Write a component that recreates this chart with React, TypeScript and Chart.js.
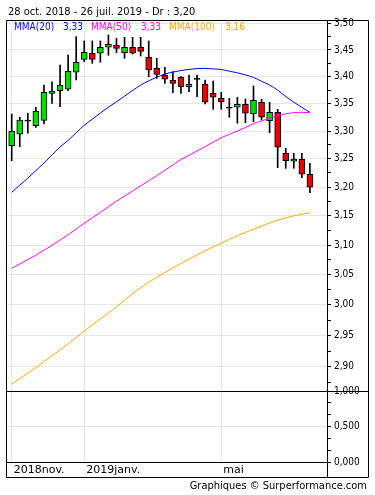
import React, { useEffect, useRef } from 'react';
import { Chart, registerables } from 'chart.js';
Chart.register(...registerables);

// weekly candles, index 0 = first week of Nov 2018
const weeks = [0,1,2,3,4,5,6,7,8,9,10,11,12,13,14,15,16,17,18,19,20,21,22,23,24,25,26,27,28,29,30,31,32,33,34,35,36,37];
const opens = [3.2736,3.2942,3.3188,3.3097,3.3195,3.3690,3.3739,3.3765,3.4081,3.4324,3.4438,3.4438,3.4551,3.4595,3.4449,3.4551,3.4551,3.4362,3.4156,3.4025,3.3937,3.3987,3.3813,3.3956,3.3863,3.3690,3.3598,3.3426,3.3433,3.3488,3.3310,3.3525,3.3188,3.3341,3.2600,3.2458,3.2493,3.2227];
const highs = [3.3310,3.3250,3.3323,3.3433,3.3844,3.3905,3.4217,3.4406,3.4753,3.4671,3.4671,3.4671,3.4785,3.4722,3.4741,3.4741,3.4741,3.4671,3.4343,3.4174,3.4092,3.3999,3.4030,3.4030,3.3937,3.3918,3.3709,3.3598,3.3617,3.3585,3.3826,3.3580,3.3525,3.3396,3.2690,3.2600,3.2600,3.2422];
const lows = [3.2468,3.2718,3.2960,3.3068,3.3128,3.3506,3.3444,3.3739,3.3937,3.4279,3.4249,3.4268,3.4400,3.4449,3.4343,3.4424,3.4387,3.3999,3.3969,3.3875,3.3702,3.3690,3.3720,3.3627,3.3493,3.3396,3.3396,3.3250,3.3141,3.3152,3.3170,3.3201,3.2970,3.2344,3.2333,3.2333,3.2167,3.1903];
const closes = [3.3001,3.3201,3.3188,3.3365,3.3709,3.3733,3.3844,3.4099,3.4268,3.4457,3.4324,3.4551,3.4608,3.4532,3.4551,3.4438,3.4475,3.4124,3.4043,3.3950,3.3875,3.3813,3.3857,3.3956,3.3525,3.3617,3.3536,3.3426,3.3488,3.3323,3.3561,3.3250,3.3341,3.2708,3.2468,3.2498,3.2227,3.1998];
const mma20 = [3.1910,3.2035,3.2160,3.2291,3.2427,3.2571,3.2713,3.2832,3.2969,3.3105,3.3215,3.3327,3.3435,3.3534,3.3637,3.3744,3.3840,3.3922,3.3987,3.4049,3.4084,3.4114,3.4135,3.4150,3.4154,3.4144,3.4133,3.4101,3.4071,3.4032,3.3985,3.3913,3.3842,3.3748,3.3631,3.3527,3.3431,3.3341];
const mma50 = [3.0608,3.0680,3.0754,3.0829,3.0912,3.0995,3.1087,3.1175,3.1275,3.1371,3.1466,3.1561,3.1659,3.1755,3.1844,3.1933,3.2023,3.2112,3.2204,3.2299,3.2390,3.2490,3.2564,3.2641,3.2720,3.2801,3.2878,3.2940,3.3000,3.3063,3.3135,3.3181,3.3235,3.3279,3.3314,3.3334,3.3341,3.3334];
const mma100 = [2.8726,2.8813,2.8900,2.8986,2.9078,2.9174,2.9268,2.9365,2.9470,2.9573,2.9671,2.9769,2.9865,2.9965,3.0080,3.0185,3.0282,3.0372,3.0457,3.0537,3.0614,3.0689,3.0762,3.0833,3.0902,3.0969,3.1034,3.1097,3.1158,3.1216,3.1271,3.1325,3.1377,3.1425,3.1466,3.1500,3.1530,3.1555];
const priceTicks = [2.90,2.95,3.00,3.05,3.10,3.15,3.20,3.25,3.30,3.35,3.40,3.45,3.50];
const volumeTicks = [0, 0.5, 1];
const monthTicks = [0, 9, 26];
const monthLabels = ['2018nov.', '2019janv.', 'mai'];
const titleText = '28 oct. 2018 - 26 juil. 2019 - Dr : ';
const footerText = 'Graphiques \u00A9 Surperformance.com';

const FONT = '"DejaVu Sans Condensed", "DejaVu Sans", sans-serif';
const GREEN = '#00e000';
const RED = '#ee0000';
const GRID = '#e6e6e6';

const fmt = (v: number, d: number) => v.toFixed(d).replace('.', ',');
const near = (a: number, b: number) => Math.abs(a - b) < 1e-6;

const priceAllTicks: number[] = [];
priceTicks.forEach((t, i) => {
  priceAllTicks.push(t);
  if (i < priceTicks.length - 1) priceAllTicks.push((t + priceTicks[i + 1]) / 2);
});
priceAllTicks.unshift(priceTicks[0] - 0.025);
const volAllTicks: number[] = [];
volumeTicks.forEach((t, i) => {
  volAllTicks.push(t);
  if (i < volumeTicks.length - 1) {
    const n = volumeTicks[i + 1];
    volAllTicks.push(t + (n - t) / 3, t + (2 * (n - t)) / 3);
  }
});

const framePlugin = {
  id: 'frame',
  afterDraw(chart: any) {
    const ctx = chart.ctx as CanvasRenderingContext2D;
    const ca = chart.chartArea;
    const yv = chart.scales.y2;
    const W = chart.width;
    ctx.save();
    ctx.strokeStyle = '#000';
    ctx.lineWidth = 1;
    const L = ca.left - 0.5;
    const R = W - 6.5;
    const T = ca.top + 0.5;
    const B = chart.scales.x.bottom + 0.5;
    ctx.beginPath();
    ctx.rect(L, T, R - L, B - T);
    ctx.moveTo(L, Math.round(yv.top) + 0.5);
    ctx.lineTo(R, Math.round(yv.top) + 0.5);
    ctx.moveTo(L, Math.round(ca.bottom) + 0.5);
    ctx.lineTo(Math.round(ca.right) + 0.5, Math.round(ca.bottom) + 0.5);
    ctx.moveTo(Math.round(ca.right) + 0.5, T);
    ctx.lineTo(Math.round(ca.right) + 0.5, B);
    ctx.stroke();

    // title
    ctx.fillStyle = '#000';
    ctx.textBaseline = 'middle';
    ctx.textAlign = 'left';
    ctx.font = '11px ' + FONT;
    ctx.fillText(titleText + fmt(closes[closes.length - 1], 2), 8, 12.5);

    // legend
    ctx.font = '10px ' + FONT;
    const items: [string, number, string][] = [
      ['MMA(20)', 14, '#0000ff'],
      [fmt(mma20[mma20.length - 1], 2), 63, '#0000ff'],
      ['MMA(50)', 91, '#ff00ff'],
      [fmt(mma50[mma50.length - 1], 2), 141, '#ff00ff'],
      ['MMA(100)', 169, '#ffa500'],
      [fmt(mma100[mma100.length - 1], 2), 225, '#ffa500'],
    ];
    items.forEach(([t, x, c]) => {
      ctx.fillStyle = c;
      ctx.fillText(t, x, 27.5);
    });

    // footer
    ctx.fillStyle = '#000';
    ctx.textAlign = 'right';
    ctx.font = '11px ' + FONT;
    ctx.fillText(footerText, 367, 486.5);
    ctx.restore();
  },
};

export default function App() {
  const ref = useRef<HTMLCanvasElement>(null);
  useEffect(() => {
    const isDoji = (i: number) => near(opens[i], closes[i]);
    const line = (label: string, vals: number[], color: string) => ({
      type: 'line', label,
      data: weeks.map((w, i) => ({ x: w, y: vals[i] })),
      borderColor: color, borderWidth: 1, pointRadius: 0,
      cubicInterpolationMode: 'monotone',
      yAxisID: 'y', order: 0,
    });
    const chart = new Chart(ref.current as HTMLCanvasElement, {
      type: 'line',
      data: {
        datasets: [
          line('MMA(20)', mma20, '#0000ff'),
          line('MMA(50)', mma50, '#ff00ff'),
          line('MMA(100)', mma100, '#ffa500'),
          {
            type: 'bar', label: 'body',
            data: weeks.map((w, i) => ({
              x: w,
              y: isDoji(i) ? [opens[i] * 0.9997, opens[i] * 1.0003] : [opens[i], closes[i]],
            })) as any,
            backgroundColor: weeks.map((_, i) => (isDoji(i) ? '#000' : closes[i] > opens[i] ? GREEN : RED)),
            borderColor: '#000', borderWidth: 1, borderSkipped: false,
            barThickness: 6, grouped: false, yAxisID: 'y', order: 1,
          } as any,
          {
            type: 'bar', label: 'wick',
            data: weeks.map((w, i) => ({ x: w, y: [lows[i], highs[i]] })) as any,
            backgroundColor: '#000', borderWidth: 0,
            barThickness: 1, grouped: false, yAxisID: 'y', order: 2,
          } as any,
        ] as any,
      },
      options: {
        responsive: false,
        maintainAspectRatio: false,
        animation: false,
        devicePixelRatio: 1,
        events: [],
        layout: { padding: { left: 7, top: 20, right: 7, bottom: 18 } },
        plugins: { legend: { display: false }, tooltip: { enabled: false } },
        scales: {
          x: {
            type: 'linear', position: 'bottom',
            min: -0.583, max: 39.12, offset: false,
            afterBuildTicks: (s: any) => { s.ticks = monthTicks.map((v) => ({ value: v })); },
            afterFit: (s: any) => { s.height = 15; },
            grid: { color: GRID, drawTicks: false, offset: false },
            border: { display: true, color: '#000' },
            ticks: {
              autoSkip: false, maxRotation: 0, align: 'start', labelOffset: 2, padding: 2,
              color: '#000', font: { family: '"DejaVu Sans", sans-serif', size: 11 },
              callback: (v: any) => monthLabels[monthTicks.indexOf(Number(v))] ?? '',
            },
          },
          y: {
            type: 'logarithmic', position: 'right', stack: 'v', stackWeight: 371,
            min: 2.8616, max: 3.5072,
            afterBuildTicks: (s: any) => { s.ticks = priceAllTicks.map((v) => ({ value: v })); },
            afterFit: (s: any) => { s.width = 41; },
            grid: {
              drawTicks: true, tickLength: 4, tickColor: '#000', tickWidth: 1,
              color: (c: any) => (priceTicks.some((t) => near(t, c.tick?.value)) ? GRID : 'rgba(0,0,0,0)'),
            },
            border: { display: true, color: '#000' },
            ticks: {
              padding: 3, color: '#000', autoSkip: false,
              font: { family: FONT, size: 10 },
              callback: (v: any) => (priceTicks.some((t) => near(t, Number(v))) ? fmt(Number(v), 2) : ''),
            },
          },
          y2: {
            type: 'linear', position: 'right', stack: 'v', stackWeight: 71,
            min: 0, max: 1,
            afterBuildTicks: (s: any) => { s.ticks = volAllTicks.map((v) => ({ value: v })); },
            afterFit: (s: any) => { s.width = 41; },
            grid: {
              drawTicks: true, tickLength: 4, tickColor: '#000', tickWidth: 1,
              color: (c: any) => (near(c.tick?.value, 0.5) ? GRID : 'rgba(0,0,0,0)'),
            },
            border: { display: true, color: '#000' },
            ticks: {
              padding: 3, color: '#000', autoSkip: false,
              font: { family: FONT, size: 10 },
              callback: (v: any) => (volumeTicks.some((t) => near(t, Number(v))) ? fmt(Number(v), 3) : ''),
            },
          },
        },
      } as any,
      plugins: [framePlugin],
    });
    return () => chart.destroy();
  }, []);
  return (
    <div style={{ position: 'absolute', left: 0, top: 0, width: 375, height: 495, background: '#fff' }}>
      <canvas ref={ref} width={375} height={495} style={{ display: 'block', width: 375, height: 495 }} />
    </div>
  );
}
